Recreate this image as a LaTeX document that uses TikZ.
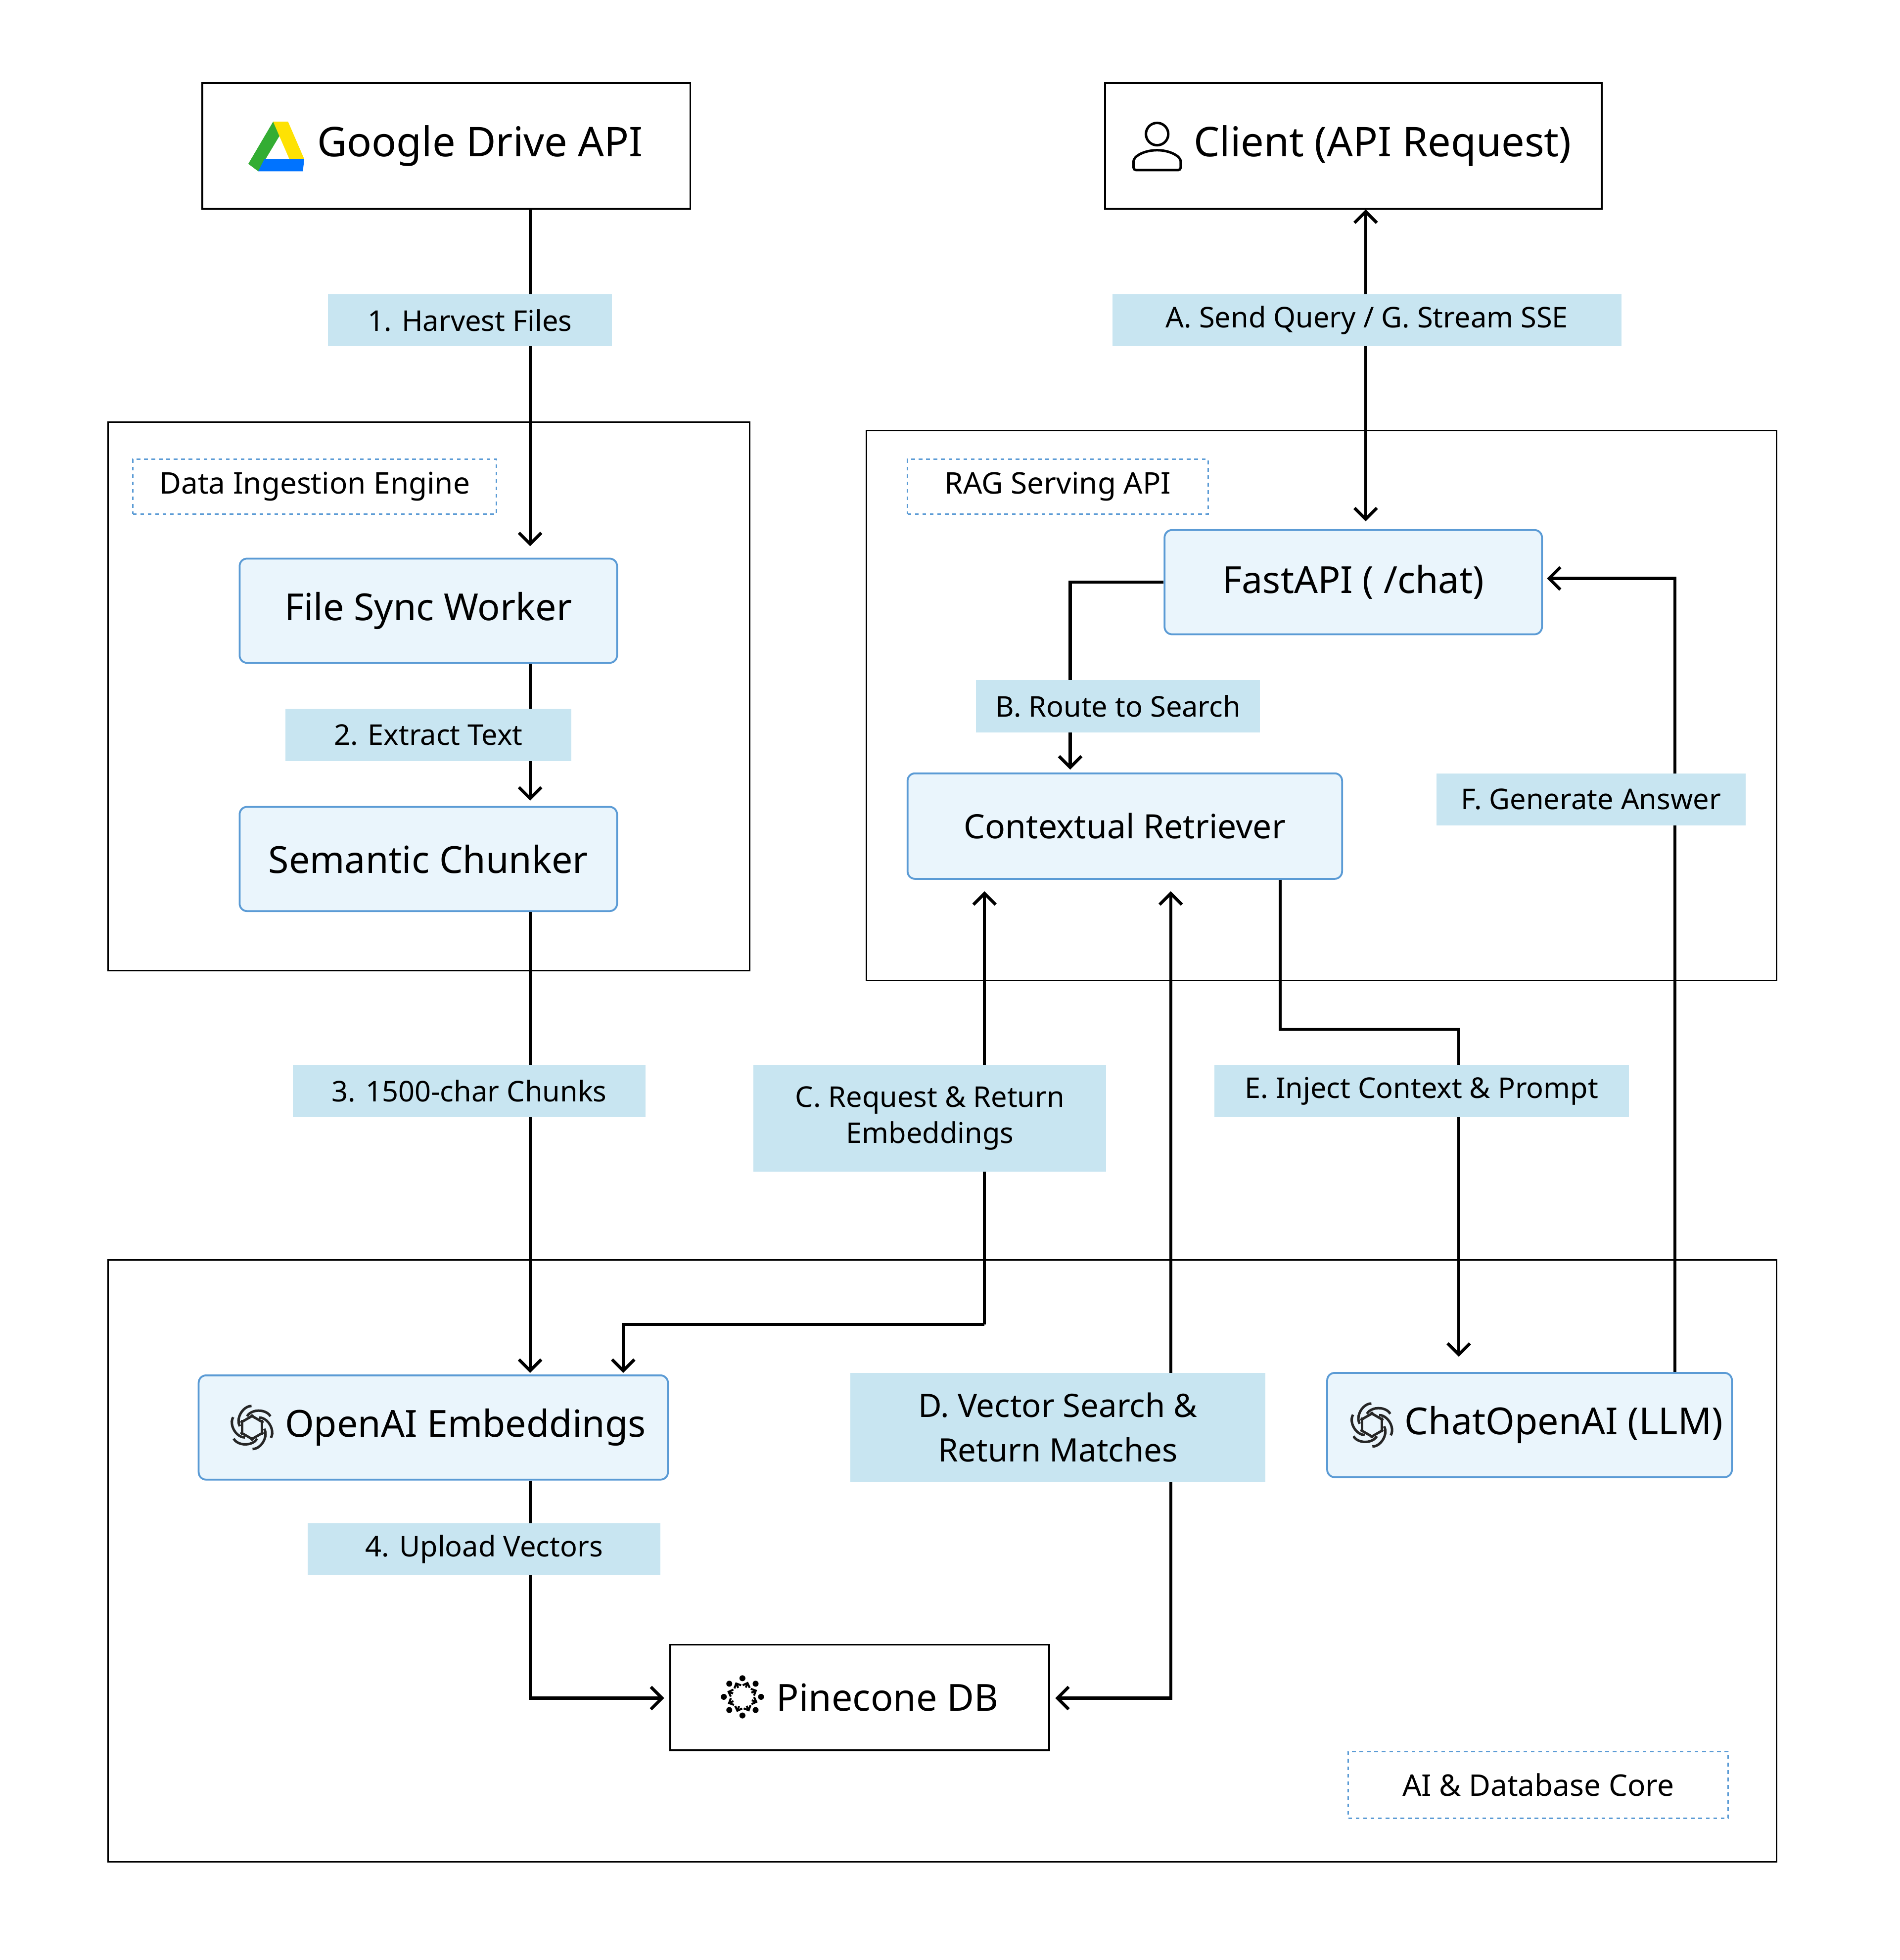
\documentclass[tikz,border=0pt]{standalone}
\usepackage{fontspec}
\setmainfont{Noto Sans}
\usetikzlibrary{arrows.meta, positioning}
\definecolor{boxfill}{HTML}{EAF5FC}
\definecolor{boxline}{HTML}{5B9BD5}
\definecolor{tagfill}{HTML}{C8E5F1}
\tikzset{
	comp/.style={draw=boxline, fill=boxfill, rounded corners=6pt, line width=1.5pt, font=\fontsize{30}{36}\selectfont},
	ext/.style={draw, line width=1.5pt, fill=white, font=\fontsize{33}{40}\selectfont},
	tag/.style={fill=tagfill, font=\fontsize{23}{29}\selectfont, align=center},
	group/.style={draw, line width=1.2pt},
	grouplabel/.style={draw=boxline, dashed, line width=1.2pt, font=\fontsize{24}{30}\selectfont},
	flow/.style={line width=2.5pt, -{Straight Barb[length=9pt,width=18pt,line width=2.5pt]}},
	gptlogo/.style={line width=2pt, draw=black!85}
}
\begin{document}
\begin{tikzpicture}[x=1pt, y=-1pt]
	\useasboundingbox (0,0) rectangle (1530,1579);
	% groups
	\draw[group] (87,340) rectangle (604,782);
	\draw[group] (698,347) rectangle (1431,790);
	\draw[group] (87,1015) rectangle (1431,1500);
	\node[grouplabel, minimum width=293pt, minimum height=44pt] (ingest) at (253.5,392) {Data Ingestion Engine};
	\node[grouplabel, minimum width=242pt, minimum height=44pt] (rag) at (852,392) {RAG Serving API};
	\node[grouplabel, minimum width=306pt, minimum height=54pt] (core) at (1239,1438) {AI \& Database Core};

	% external boxes
	\node[ext, minimum width=393pt, minimum height=101pt] (gdrive) at (359.5,117.5) {};
	\node[ext, minimum width=400pt, minimum height=101pt] (client) at (1090,117.5) {};
	\node[anchor=west, font=\fontsize{33}{40}\selectfont] (gdtext) at (252,117.5) {Google Drive API};
	\node[anchor=west, font=\fontsize{33}{40}\selectfont] (cltext) at (958,117.5) {Client (API Request)};
	% drive icon
	\fill[green!60!black!80] (220,98) -- (200,132) -- (208,138) -- (229,103) -- cycle;
	\fill[yellow!85!orange] (220,98) -- (232,98) -- (245,128) -- (233,128) -- cycle;
	\fill[blue!55!cyan] (208,138) -- (244,138) -- (245,128) -- (213,128) -- cycle;
	% person icon
	\draw[line width=2pt] (932,108) circle (9);
	\draw[line width=2pt, rounded corners=2pt] (913,137) -- (913,132) arc (180:360:19 and 11) -- (951,137) -- cycle;

	% components
	\node[comp, minimum width=304pt, minimum height=84pt] (sync) at (345,492) {File Sync Worker};
	\node[comp, minimum width=304pt, minimum height=84pt] (chunker) at (345,692) {Semantic Chunker};
	\node[comp, minimum width=304pt, minimum height=84pt] (fastapi) at (1090,469) {FastAPI ( /chat)};
	\node[comp, minimum width=350pt, minimum height=85pt, font=\fontsize{27}{33}\selectfont] (retriever) at (906,665.5) {Contextual Retriever};
	\node[comp, minimum width=378pt, minimum height=84pt] (embed) at (349,1150) {};
	\node[anchor=west, font=\fontsize{30}{36}\selectfont] (embtext) at (226,1150) {OpenAI Embeddings};
	\node[comp, minimum width=326pt, minimum height=84pt] (llm) at (1232,1148) {};
	\node[anchor=west, font=\fontsize{30}{36}\selectfont] (llmtext) at (1128,1148) {ChatOpenAI (LLM)};
	\node[ext, minimum width=305pt, minimum height=85pt] (pinecone) at (692.5,1367.5) {};
	\node[anchor=west, font=\fontsize{30}{36}\selectfont] (pctext) at (622,1367.5) {Pinecone DB};
	% openai logos
	\foreach \cx/\cy in {203/1150, 1105/1148}{
		\foreach \a in {0,60,...,300}
			\draw[gptlogo, rotate around={\a:(\cx,\cy)}] (\cx-4,\cy-9) arc (200:340:10 and 7) ;
		\foreach \a in {0,60,...,300}
			\draw[gptlogo, rotate around={\a:(\cx,\cy)}] (\cx-8,\cy-6) -- (\cx-8,\cy+6);
	}
	% pinecone icon
	\foreach \a in {0,45,...,315}{
		\fill ([shift={(\a:15)}]598,1367) circle (2.4);
		\draw[line width=1.6pt, -{Straight Barb[length=3pt]}] ([shift={(\a+20:8)}]598,1367) -- ([shift={(\a+20:13)}]598,1367);
	}

	% ingestion flow
	\draw[flow] (gdrive.south -| 427,0) -- (427,440);
	\draw[flow] (sync.south -| 427,0) -- (427,645);
	\draw[flow] (chunker.south -| 427,0) -- (427,1106);
	\draw[flow] (embed.south -| 427,0) -- (427,1368) -- (535,1368);
	% serving flow
	\draw[flow, {Straight Barb[length=9pt,width=18pt,line width=2.5pt]}-{Straight Barb[length=9pt,width=18pt,line width=2.5pt]}] (client.south -| 1100,0) -- (1100,420);
	\draw[flow] (fastapi.west) -- (862,469) -- (862,620);
	\draw[flow] (793,1067) -- (793,718);
	\draw[flow] (793,1067) -- (502,1067) -- (502,1106);
	\draw[flow, {Straight Barb[length=9pt,width=18pt,line width=2.5pt]}-{Straight Barb[length=9pt,width=18pt,line width=2.5pt]}] (850,1368) -- (943,1368) -- (943,718);
	\draw[flow] (retriever.south -| 1031,0) -- (1031,829) -- (1175,829) -- (1175,1093);
	\draw[flow] (llm.north -| 1349,0) -- (1349,466) -- (1246,466);

	% labels
	\node[tag, minimum width=229pt, minimum height=42pt] (l1) at (378.5,258) {1. Harvest Files};
	\node[tag, minimum width=410pt, minimum height=42pt] (lA) at (1101,258) {A. Send Query / G. Stream SSE};
	\node[tag, minimum width=230pt, minimum height=42pt] (l2) at (345,592) {2. Extract Text};
	\node[tag, minimum width=229pt, minimum height=42pt] (lB) at (900.5,569) {B. Route to Search};
	\node[tag, minimum width=249pt, minimum height=42pt] (lF) at (1281.5,644) {F. Generate Answer};
	\node[tag, minimum width=284pt, minimum height=42pt] (l3) at (378,879) {3. 1500-char Chunks};
	\node[tag, minimum width=284pt, minimum height=86pt] (lC) at (749,901) {C. Request \& Return\\Embeddings};
	\node[tag, minimum width=334pt, minimum height=42pt] (lE) at (1145,879) {E. Inject Context \& Prompt};
	\node[tag, minimum width=334pt, minimum height=88pt, font=\fontsize{26}{36}\selectfont] (lD) at (852,1150) {D. Vector Search \&\\Return Matches};
	\node[tag, minimum width=284pt, minimum height=42pt] (l4) at (390,1248) {4. Upload Vectors};
\end{tikzpicture}
\end{document}
